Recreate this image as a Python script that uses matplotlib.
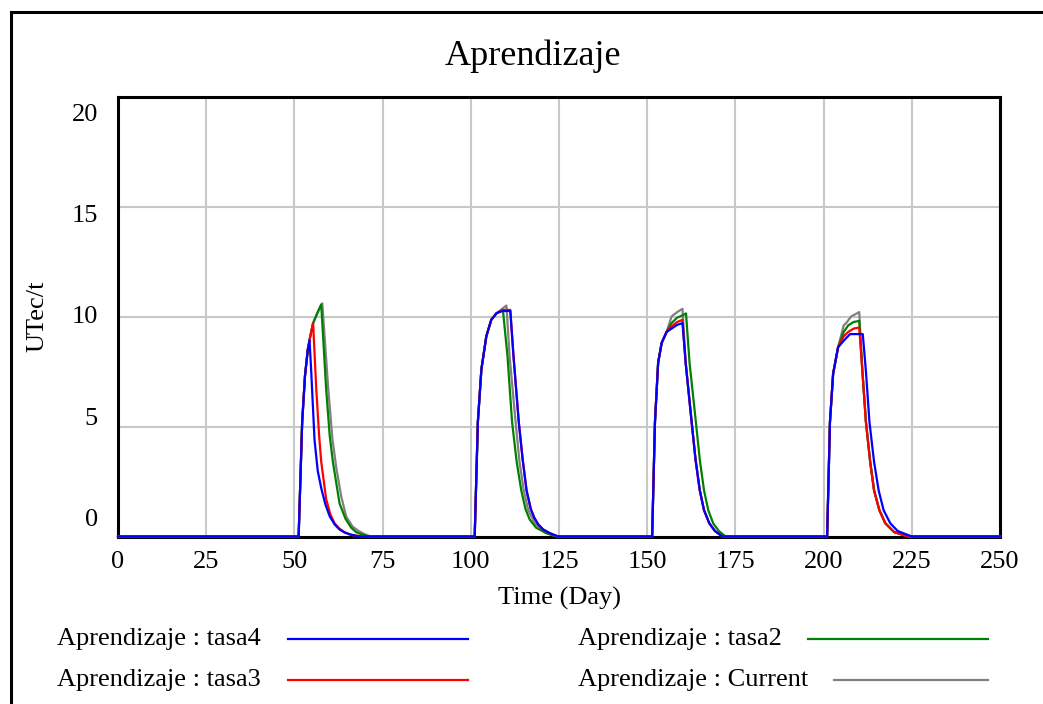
import matplotlib
matplotlib.use("Agg")
import matplotlib.pyplot as plt
from matplotlib.lines import Line2D
from matplotlib.patches import Rectangle

plt.rcParams['font.family'] = ['Liberation Serif', 'DejaVu Serif']

## Datos (Time (Day), UTec/t)

# tasa4 (azul)
tasa4_t = [0, 51.2, 52.2, 53.0, 53.8, 54.3, 54.8, 55.7, 56.6, 57.6, 58.8, 60.0, 61.4, 62.8, 64.2, 65.6, 67.5, 69.0,
           101.1, 102.0, 103.0, 104.4, 105.8, 107.3, 109.0, 111.2, 112.1, 113.6, 114.7, 115.8, 117.0, 118.0, 119.1, 120.5, 122.4, 124.8,
           151.4, 152.2, 153.1, 154.1, 155.5, 156.9, 158.5, 160.0, 160.9, 162.6, 163.7, 164.9, 166.1, 167.6, 169.2, 171.3,
           201.0, 201.8, 202.7, 204.1, 205.7, 207.5, 211.1, 212.0, 213.0, 214.3, 215.6, 217.0, 218.9, 221.0, 225.0, 250]
tasa4_v = [0, 0, 5.2, 7.3, 8.5, 8.9, 7.4, 4.4, 3.0, 2.2, 1.45, 0.92, 0.55, 0.32, 0.18, 0.1, 0.03, 0,
           0, 5.2, 7.6, 9.1, 9.85, 10.15, 10.25, 10.25, 8.2, 5.2, 3.5, 2.1, 1.25, 0.85, 0.55, 0.32, 0.15, 0,
           0, 5.2, 7.9, 8.8, 9.3, 9.45, 9.62, 9.7, 7.9, 5.2, 3.5, 2.1, 1.2, 0.6, 0.25, 0,
           0, 5.2, 7.4, 8.6, 8.9, 9.2, 9.2, 7.5, 5.2, 3.4, 2.1, 1.2, 0.6, 0.25, 0, 0]

# tasa3 (rojo)
tasa3_t = [0, 51.2, 52.2, 53.0, 53.8, 54.5, 55.3, 56.2, 57.0, 57.6, 59.0, 60.2, 61.4, 62.8, 64.2, 66.0, 69.0,
           101.1, 102.0, 103.0, 104.4, 105.8, 107.3, 109.0, 111.2, 112.1, 113.6, 114.7, 115.8, 117.0, 118.0, 119.1, 120.5, 122.4, 124.8,
           151.4, 152.2, 153.1, 154.1, 155.5, 156.9, 158.5, 160.0, 160.9, 162.6, 163.7, 164.9, 166.1, 167.6, 169.2, 171.3,
           201.0, 201.8, 202.7, 204.1, 205.7, 207.0, 208.5, 210.1, 211.0, 212.0, 213.2, 214.3, 215.8, 217.5, 220.0, 224.0, 250]
tasa3_v = [0, 0, 5.2, 7.3, 8.5, 9.1, 9.7, 6.7, 4.6, 3.4, 1.7, 1.0, 0.6, 0.35, 0.2, 0.08, 0,
           0, 5.2, 7.6, 9.1, 9.85, 10.15, 10.3, 10.3, 8.2, 5.2, 3.5, 2.1, 1.25, 0.85, 0.55, 0.32, 0.15, 0,
           0, 5.2, 7.9, 8.8, 9.3, 9.55, 9.75, 9.85, 7.9, 5.2, 3.5, 2.1, 1.2, 0.6, 0.25, 0,
           0, 5.2, 7.4, 8.6, 9.1, 9.3, 9.45, 9.5, 7.5, 5.2, 3.4, 2.1, 1.2, 0.6, 0.2, 0, 0]

# tasa2 (verde)
tasa2_t = [0, 51.2, 52.2, 53.0, 53.8, 54.5, 55.3, 56.5, 57.6, 59.0, 60.0, 60.9, 62.0, 62.8, 64.5, 66.1, 67.5, 69.0, 71.0,
           101.1, 102.0, 103.0, 104.4, 105.8, 107.3, 109.1, 110.4, 111.7, 113.0, 114.3, 115.5, 116.7, 118.5, 121.4, 124.3,
           151.4, 152.2, 153.1, 154.1, 155.5, 156.9, 158.5, 160.0, 161.0, 162.0, 163.8, 164.9, 166.1, 167.3, 168.7, 170.3, 172.2,
           201.0, 201.8, 202.7, 204.1, 205.7, 207.0, 208.5, 210.1, 211.0, 212.0, 213.2, 214.3, 215.8, 217.5, 220.0, 224.0, 250]
tasa2_v = [0, 0, 5.2, 7.3, 8.5, 9.1, 9.7, 10.15, 10.55, 6.7, 4.6, 3.4, 2.3, 1.5, 0.8, 0.4, 0.2, 0.1, 0,
           0, 5.2, 7.6, 9.1, 9.85, 10.15, 10.3, 8.2, 5.2, 3.4, 2.1, 1.25, 0.77, 0.4, 0.15, 0,
           0, 5.2, 7.9, 8.8, 9.3, 9.7, 9.95, 10.05, 10.14, 7.9, 5.2, 3.5, 2.1, 1.2, 0.6, 0.25, 0,
           0, 5.2, 7.4, 8.6, 9.3, 9.6, 9.75, 9.8, 7.5, 5.2, 3.4, 2.1, 1.2, 0.6, 0.2, 0, 0]

# Current (gris)
current_t = [0, 51.2, 52.2, 53.0, 53.8, 54.5, 55.3, 56.6, 57.9, 59.6, 60.8, 61.9, 63.3, 64.7, 66.5, 68.2, 70.0, 71.7,
             101.1, 102.0, 103.0, 104.4, 105.8, 107.3, 108.5, 110.1, 111.0, 112.7, 113.8, 115.0, 116.3, 118.1, 121.0, 124.5,
             151.4, 152.2, 153.1, 154.1, 155.5, 156.9, 158.5, 160.0, 160.9, 162.6, 163.7, 164.9, 166.1, 167.6, 169.2, 171.3,
             201.0, 201.8, 202.7, 204.1, 205.7, 206.4, 207.8, 210.1, 211.0, 212.0, 213.2, 214.3, 215.8, 217.5, 220.0, 224.0, 250]
current_v = [0, 0, 5.2, 7.3, 8.5, 9.1, 9.7, 10.2, 10.6, 6.7, 4.4, 3.1, 1.8, 0.9, 0.45, 0.25, 0.1, 0,
             0, 5.2, 7.6, 9.1, 9.85, 10.15, 10.3, 10.5, 8.2, 5.2, 3.4, 2.1, 1.2, 0.6, 0.18, 0,
             0, 5.2, 7.9, 8.8, 9.3, 10.0, 10.2, 10.35, 7.9, 5.2, 3.5, 2.1, 1.2, 0.6, 0.25, 0,
             0, 5.2, 7.4, 8.6, 9.6, 9.7, 10.0, 10.2, 7.5, 5.2, 3.4, 2.1, 1.2, 0.6, 0.2, 0, 0]

series = [("Aprendizaje : Current", current_t, current_v, "#808080"),
          ("Aprendizaje : tasa2", tasa2_t, tasa2_v, "#008000"),
          ("Aprendizaje : tasa3", tasa3_t, tasa3_v, "#ff0000"),
          ("Aprendizaje : tasa4", tasa4_t, tasa4_v, "#0000ff")]

x_ticks = [0, 25, 50, 75, 100, 125, 150, 175, 200, 225, 250]
y_ticks = [0, 5, 10, 15, 20]

## Figura

W, H = 1043, 704
fig = plt.figure(figsize=(W / 100, H / 100), dpi=100)

def fx(px):
    return px / W

def fy(py):
    return 1 - py / H

# marco exterior
fig.add_artist(Rectangle((fx(11), fy(712)), fx(1040), fy(12) - fy(712), fill=False,
                         lw=2.2, ec="black", transform=fig.transFigure))

ax = fig.add_axes([fx(118), fy(536.5), fx(1000) - fx(118), fy(96.5) - fy(536.5)])
for i, (lab, t, v, c) in enumerate(series):
    ax.plot(t, v, color=c, lw=1.6, zorder=5 + i, clip_on=False)

ax.set_xlim(0, 250)
ax.set_ylim(0, 20)
ax.set_xticks(x_ticks)
ax.set_yticks(y_ticks)
ax.grid(True, color="#c8c8c8", lw=1.5)
ax.tick_params(length=0, labelleft=False, labelbottom=False)
for s in ax.spines.values():
    s.set_linewidth(2.2)
    s.set_zorder(4)

# etiquetas de los ejes
for xt in x_ticks:
    fig.text(fx(118 + xt * 882 / 250), fy(562), str(xt), ha="center", va="center", fontsize=19)
for yt in y_ticks:
    fig.text(fx(98), fy(520 - yt / 20 * 405), str(yt), ha="right", va="center", fontsize=19)

fig.text(fx(533), fy(56), "Aprendizaje", ha="center", va="center", fontsize=26)
fig.text(fx(559), fy(598), "Time (Day)", ha="center", va="center", fontsize=19)
fig.text(fx(37), fy(316), "UTec/t", ha="center", va="center", rotation=90, fontsize=19)

# leyenda
legend_items = [("Aprendizaje : tasa4", "#0000ff", 57, 639, 288, 468),
                ("Aprendizaje : tasa3", "#ff0000", 57, 680, 288, 468),
                ("Aprendizaje : tasa2", "#008000", 578, 639, 808, 988),
                ("Aprendizaje : Current", "#808080", 578, 680, 834, 988)]
for lab, c, tx, ty, x0, x1 in legend_items:
    fig.text(fx(tx), fy(ty), lab, ha="left", va="center", fontsize=19)
    fig.add_artist(Line2D([fx(x0), fx(x1)], [fy(ty), fy(ty)], color=c, lw=1.6, transform=fig.transFigure))

fig.savefig("out.png", dpi=100)
